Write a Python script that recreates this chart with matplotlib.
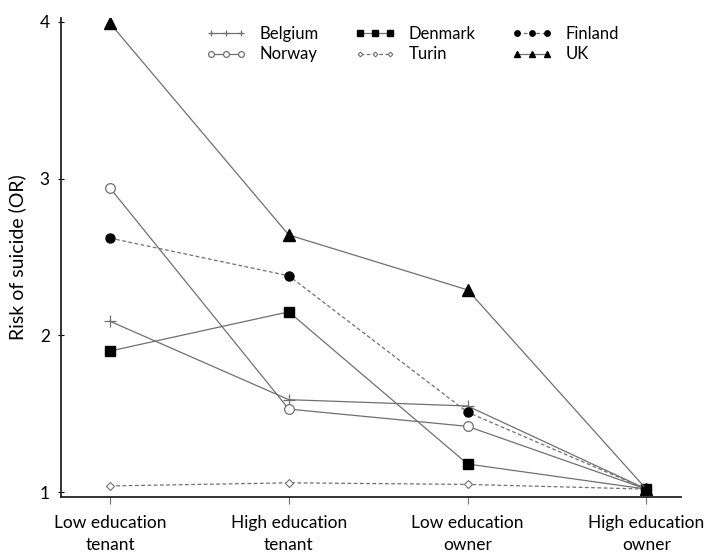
import numpy as np
import matplotlib
matplotlib.use("Agg")
import matplotlib.pyplot as plt

plt.rcParams['font.family'] = ['Lato', 'DejaVu Sans']

categories = ['Low education\ntenant', 'High education\ntenant',
              'Low education\nowner', 'High education\nowner']

belgium = [2.09, 1.59, 1.55, 1.02]
norway = [2.94, 1.53, 1.42, 1.02]
denmark = [1.90, 2.15, 1.18, 1.02]
finland = [2.62, 2.38, 1.51, 1.02]
turin = [1.04, 1.06, 1.05, 1.02]
uk = [3.99, 2.64, 2.29, 1.02]

line_col = '#707070'
x = np.arange(len(categories))

fig = plt.figure(figsize=(7.05, 5.54), dpi=100)
ax = fig.add_axes([0.0865, 0.103, 0.88, 0.865])

ax.plot(x, belgium, color=line_col, lw=0.9, marker='+', ms=8, mec=line_col, mew=0.9, label='Belgium')
ax.plot(x, norway, color=line_col, lw=0.9, marker='o', ms=7, mfc='white', mec=line_col, mew=0.9, label='Norway')
ax.plot(x, denmark, color=line_col, lw=0.9, marker='s', ms=6.5, mfc='black', mec='black', label='Denmark')
ax.plot(x, turin, color=line_col, lw=0.9, ls=(0, (3, 2)), marker='D', ms=4, mfc='white', mec=line_col, mew=0.8, label='Turin')
ax.plot(x, finland, color=line_col, lw=0.9, ls=(0, (3, 2)), marker='o', ms=6.5, mfc='black', mec='black', label='Finland')
ax.plot(x, uk, color=line_col, lw=0.9, marker='^', ms=8, mfc='black', mec='black', label='UK')

ax.set_xlim(-0.274, 3.196)
ax.set_ylim(0.97, 4.025)
ax.set_xticks(x)
ax.set_xticklabels(categories, fontsize=12.5, linespacing=1.45)
ax.set_yticks([1, 2, 3, 4])
ax.tick_params(axis='y', labelsize=12.5, length=4, width=0.8, direction='inout', pad=6)
ax.tick_params(axis='x', length=5, width=0.8, color=line_col, pad=8)
ax.set_ylabel('Risk of suicide (OR)', fontsize=14, labelpad=10)

for s in ['top', 'right']:
    ax.spines[s].set_visible(False)
for s in ['left', 'bottom']:
    ax.spines[s].set_linewidth(1.3)
    ax.spines[s].set_color('#222222')

ax.legend(loc='upper center', bbox_to_anchor=(0.566, 0.997), ncol=3, numpoints=3,
          markerscale=0.6, frameon=False, fontsize=12, handlelength=2.4,
          handletextpad=0.8, columnspacing=2.2, labelspacing=0.28, borderaxespad=0.0)

fig.savefig('out.png', dpi=100)
